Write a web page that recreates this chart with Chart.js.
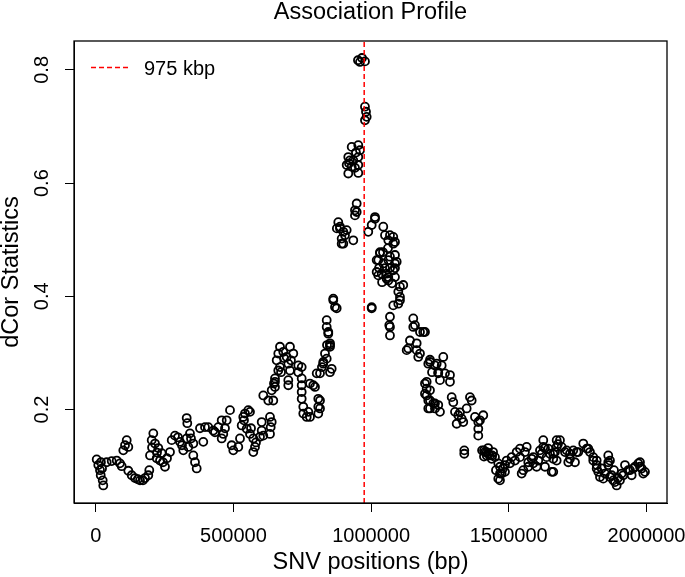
<!DOCTYPE html>
<html>
<head>
<meta charset="utf-8">
<script src="https://cdn.jsdelivr.net/npm/chart.js@4.4.1/dist/chart.umd.min.js"></script>
<style>
html,body{margin:0;padding:0;background:#fff;}
#wrap{width:685px;height:577px;}
</style>
</head>
<body>
<div id="wrap"><canvas id="c" width="685" height="577"></canvas></div>
<script>
const chartTitle = "Association Profile";
const xAxisTitle = "SNV positions (bp)";
const yAxisTitle = "dCor Statistics";
const xTicks = [0, 500000, 1000000, 1500000, 2000000];
const yTicks = [0.2, 0.4, 0.6, 0.8];
const markerPosition = 975000;
const markerLabel = "975 kbp";

// SNV positions (bp), grouped by region
const snvPositions = [
  3600,9400,15600,18200,25400,27600,19000,23000,39900,58100,76300,88200,94400,112600,106400,118400,100200,118400,130700,142700,160900,179000,191000,194600,153000,171700,
  209200,203300,215300,227300,197200,221500,233500,251600,269800,239600,287900,276000,306100,318100,330400,342400,336200,354400,330400,332600,354400,360600,366700,378700,396900,390700,
  204600,222600,244300,258900,298800,313300,346000,
  408900,427000,445200,457500,475700,487700,463300,457500,493800,499600,517800,524000,535900,554100,530100,548300,560300,572300,578400,572300,542100,560300,
  433200,469500,538500,564000,582000,
  602800,602800,596600,608600,632900,639100,635400,632900,608600,626700,644900,639100,647400,651000,651000,651000,
  669200,663000,657200,669200,663000,681200,693500,705500,717500,699400,705500,699400,699400,735700,735700,748000,748000,748000,748000,753800,753800,766200,772000,748000,
  683700,709100,673000,
  778100,796300,802500,808300,808300,808300,778100,790100,814500,826400,838800,850800,850800,856900,850800,814500,814500,844600,838800,838800,844600,850800,832600,826400,862700,868900,875100,862700,
  821500,839900,
  880900,887100,899100,893200,899100,911400,935400,887100,893200,947700,941500,941500,947700,929600,953500,959700,917200,935400,953500,911400,929600,953500,917200,953500,977800,981500,984000,977800,952400,967000,977800,959700,923000,945000,
  919800,941500,875700,905200,
  1014200,1014200,1002200,989800,1044300,1050500,1068600,1062500,1080600,1086800,1080600,1032300,1032300,1026200,1020300,1044300,1068600,1086800,1020300,1038500,1062500,1080600,1086800,1062500,1026200,1062500,1093000,1056600,1056600,1086800,1029000,1050000,1040000,1076000,
  1061400,1043200,1068600,1086800,
  1104900,1116900,1098800,1104900,1098800,1080600,1104900,1002200,1002200,1068600,1068600,1068600,1066100,
  1153200,1153200,1177600,1195700,1141200,1135100,1165600,1171400,1207700,1238200,1195700,1195700,1207700,1213900,1232000,1244000,1159400,1189500,1129300,1165600,1177600,1213900,1262200,
  1213900,1232000,1256400,1244000,1268400,1286500,1286500,1250200,1201900,1201900,1201900,1213900,1225900,1207700,1232000,1250200,1244000,
  1221300,1213900,
  1292700,1298500,1359100,1365300,1347100,1304700,1316600,1310800,1329000,1334800,1377300,1389300,1407400,1389300,1389300,1338400,1338400,
  1322800,1395400,
  1413600,1431700,1449900,1461900,1468100,1468100,1486200,1486200,1504400,1522500,1540700,1558800,1540700,1552700,1570800,1589000,1607100,1619500,1625300,1625300,1631500,1655800,1649600,1673900,1673900,1410000,1420000,1426000,1440000,1403000,1425000,1443000,1410000,
  1453500,1478900,1631500,1678600,
  1613300,1565000,1528700,1510500,1492400,1468100,1474200,1461900,1419800,1437900,1546900,1583200,1589000,1601300,1570800,1637600,1643500,1661600,1673900,1667800,1661600,1661600,
  1685900,1692100,1704100,1722200,1716100,1740400,1734200,1752400,1770500,1782900,1794900,1806800,1806800,1819200,1825000,1831200,1837400,1861300,1867500,1861300,1849300,1867500,1879500,1891800,1903800,1915800,1922000,1933900,1952100,1970300,1988400,1976500,1946300,
  1710300,1722200,1746600,1788700,1819200,1819200,1843200,1861300,1873700,1885700,1910000,1940100,1958300,1976500,1994600,1982700,
  1882000,1896600
];

// dCor statistics, same order as snvPositions
const dcorValues = [
  0.112,0.102,0.093,0.084,0.075,0.066,0.107,0.096,0.107,0.109,0.110,0.105,0.100,0.146,0.137,0.134,0.128,0.092,0.084,0.079,0.075,0.079,0.084,0.093,0.077,0.075,
  0.158,0.146,0.140,0.132,0.119,0.114,0.110,0.099,0.125,0.123,0.154,0.146,0.143,0.128,0.149,0.158,0.134,0.140,0.185,0.176,0.119,0.107,0.096,0.167,0.169,0.143,
  0.133,0.124,0.107,0.114,0.151,0.137,0.149,
  0.169,0.163,0.169,0.181,0.181,0.199,0.157,0.149,0.137,0.128,0.134,0.149,0.187,0.199,0.172,0.166,0.157,0.149,0.134,0.125,0.193,0.196,
  0.160,0.167,0.181,0.167,0.142,
  0.178,0.163,0.152,0.154,0.187,0.178,0.169,0.157,0.225,0.216,0.216,0.234,0.246,0.255,0.249,0.240,
  0.311,0.299,0.287,0.275,0.269,0.302,0.293,0.311,0.299,0.281,0.269,0.252,0.243,0.278,0.266,0.255,0.243,0.231,0.219,0.205,0.193,0.187,0.196,0.275,
  0.291,0.287,0.266,
  0.246,0.240,0.264,0.219,0.205,0.193,0.187,0.243,0.264,0.281,0.290,0.311,0.317,0.272,0.266,0.202,0.216,0.337,0.358,0.346,0.334,0.314,0.299,0.284,0.396,0.381,0.379,0.393,
  0.275,0.314,
  0.531,0.523,0.514,0.502,0.493,0.517,0.499,0.520,0.493,0.564,0.552,0.543,0.549,0.664,0.667,0.658,0.646,0.640,0.646,0.632,0.629,0.632,0.617,0.618,0.735,0.726,0.717,0.711,0.817,0.821,0.815,0.814,0.640,0.654,
  0.635,0.627,0.520,0.508,
  0.540,0.537,0.526,0.514,0.523,0.508,0.508,0.499,0.505,0.496,0.493,0.478,0.476,0.464,0.464,0.458,0.470,0.473,0.443,0.440,0.434,0.446,0.458,0.428,0.437,0.464,0.461,0.440,0.431,0.434,0.450,0.450,0.425,0.423,
  0.485,0.478,0.450,0.450,
  0.417,0.420,0.408,0.399,0.387,0.384,0.393,0.381,0.379,0.364,0.346,0.331,0.349,
  0.361,0.346,0.337,0.337,0.322,0.308,0.305,0.293,0.281,0.281,0.246,0.228,0.216,0.202,0.211,0.264,0.349,0.337,0.305,0.317,0.299,0.288,0.293,
  0.284,0.278,0.278,0.266,0.264,0.261,0.249,0.252,0.249,0.237,0.225,0.216,0.211,0.202,0.202,0.196,0.208,
  0.266,0.234,
  0.222,0.213,0.222,0.216,0.202,0.196,0.190,0.175,0.184,0.178,0.187,0.178,0.190,0.166,0.154,0.128,0.122,
  0.195,0.181,
  0.125,0.119,0.116,0.105,0.087,0.075,0.090,0.102,0.105,0.110,0.116,0.125,0.131,0.093,0.107,0.116,0.110,0.122,0.146,0.134,0.099,0.090,0.122,0.134,0.146,0.128,0.125,0.122,0.119,0.128,0.132,0.125,0.117,
  0.093,0.096,0.132,0.139,
  0.128,0.134,0.125,0.116,0.110,0.099,0.087,0.078,0.119,0.113,0.087,0.113,0.105,0.099,0.099,0.116,0.131,0.122,0.110,0.125,0.113,0.090,
  0.146,0.134,0.125,0.122,0.107,0.107,0.128,0.125,0.140,0.131,0.125,0.116,0.110,0.102,0.090,0.081,0.096,0.119,0.110,0.102,0.087,0.081,0.075,0.066,0.075,0.084,0.102,0.093,0.096,0.105,0.087,0.099,0.084,
  0.128,0.113,0.125,0.131,0.110,0.096,0.078,0.107,0.084,0.072,0.087,0.093,0.099,0.107,0.090,0.096,
  0.093,0.079
];

// axis limits as shown in the picture
const xMin = -78800, xMax = 2074600;
const yMin = 0.035, yMax = 0.851;

const FONT = '"Liberation Sans", Arial, Helvetica, sans-serif';
const markerColor = '#ff0000';

const points = snvPositions.map((x, i) => ({ x: x, y: dcorValues[i] }));

const decor = {
  id: 'decor',
  afterDraw(chart) {
    const ctx = chart.ctx, a = chart.chartArea;
    ctx.save();
    ctx.strokeStyle = '#000';
    ctx.lineWidth = 1.3;
    ctx.strokeRect(a.left, a.top, a.right - a.left, a.bottom - a.top);
    ctx.fillStyle = '#000';
    ctx.font = '23.5px ' + FONT;
    ctx.textAlign = 'center';
    ctx.textBaseline = 'middle';
    ctx.fillText(chartTitle, (a.left + a.right) / 2, 13);
    // legend (no box)
    ctx.strokeStyle = markerColor;
    ctx.lineWidth = 1.5;
    ctx.setLineDash([5, 3]);
    ctx.beginPath();
    ctx.moveTo(a.left + 17, a.top + 26.5);
    ctx.lineTo(a.left + 54, a.top + 26.5);
    ctx.stroke();
    ctx.setLineDash([]);
    ctx.font = '20px ' + FONT;
    ctx.textAlign = 'left';
    ctx.fillText(markerLabel, a.left + 70, a.top + 28);
    ctx.restore();
  }
};

new Chart(document.getElementById('c'), {
  type: 'scatter',
  data: {
    datasets: [
      {
        type: 'line',
        data: [{ x: markerPosition, y: yMin }, { x: markerPosition, y: yMax }],
        borderColor: markerColor,
        borderWidth: 1.5,
        borderDash: [5, 3],
        pointRadius: 0,
        fill: false
      },
      {
        data: points,
        showLine: false,
        pointRadius: 4,
        pointHoverRadius: 4,
        pointBorderWidth: 1.8,
        pointBackgroundColor: 'rgba(0,0,0,0)',
        pointBorderColor: '#000'
      }
    ]
  },
  options: {
    responsive: false,
    animation: false,
    devicePixelRatio: 1,
    layout: { padding: { top: 41, right: 18, bottom: 0, left: 0 } },
    plugins: { legend: { display: false }, tooltip: { enabled: false }, title: { display: false } },
    scales: {
      x: {
        type: 'linear',
        min: xMin,
        max: xMax,
        afterBuildTicks: s => { s.ticks = xTicks.map(v => ({ value: v })); },
        afterFit: s => { s.height = 74; s.paddingLeft = 0; s.paddingRight = 0; },
        grid: { display: true, drawOnChartArea: false, drawTicks: true, tickLength: 9, color: '#000', lineWidth: 1 },
        border: { display: true, color: '#000', width: 1 },
        ticks: { color: '#000', font: { family: FONT, size: 20 }, padding: 12, maxRotation: 0, minRotation: 0, autoSkip: false, callback: v => String(v) },
        title: { display: true, text: xAxisTitle, color: '#000', font: { family: FONT, size: 23.5, lineHeight: 1 }, padding: { top: 0, bottom: 3 } }
      },
      y: {
        type: 'linear',
        min: yMin,
        max: yMax,
        afterBuildTicks: s => { s.ticks = yTicks.map(v => ({ value: v })); },
        afterFit: s => { s.width = 74; s.paddingTop = 0; s.paddingBottom = 0; },
        grid: { display: true, drawOnChartArea: false, drawTicks: true, tickLength: 9, color: '#000', lineWidth: 1 },
        border: { display: true, color: '#000', width: 1 },
        ticks: { color: '#000', font: { family: FONT, size: 20 }, padding: 9, minRotation: 90, maxRotation: 90, crossAlign: 'center', autoSkip: false, callback: v => v.toFixed(1) },
        title: { display: true, text: yAxisTitle, color: '#000', font: { family: FONT, size: 23.5, lineHeight: 1 }, padding: { top: 0, bottom: 0 } }
      }
    }
  },
  plugins: [decor]
});
</script>
</body>
</html>
